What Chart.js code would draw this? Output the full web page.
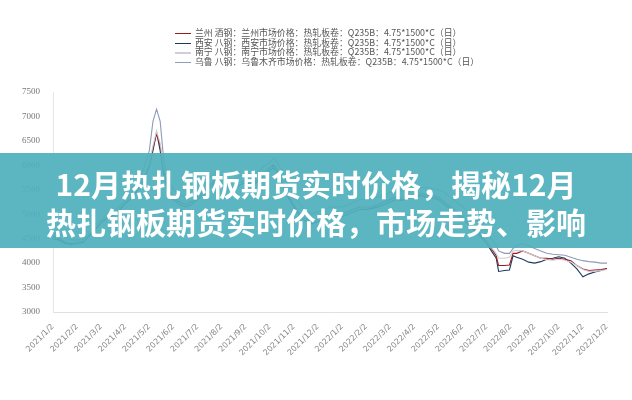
<!DOCTYPE html>
<html>
<head>
<meta charset="utf-8">
<script src="https://cdn.jsdelivr.net/npm/chart.js@4"></script>
<style>
    body { margin: 0; background: #fff; }
    #wrap { position: relative; width: 632px; height: 400px; overflow: hidden; }
    #legend { position: absolute; left: 175px; top: 28px; font: 8.9px "Noto Sans CJK SC", sans-serif; color: #555; }
    #legend div { height: 9.7px; line-height: 9.7px; white-space: nowrap; }
    #legend span { display: inline-block; width: 16px; height: 1.5px; vertical-align: middle; margin-right: 4px; }
    #banner { position: absolute; left: 0; top: 153px; width: 632px; height: 95px; background: rgba(80, 176, 188, 0.93);
        color: #fff; font: bold 30px "Noto Sans CJK SC", sans-serif; text-align: center; line-height: 38px; padding-top: 11px; box-sizing: border-box; }
</style>
</head>
<body>
<div id="wrap">
    <canvas id="chart" width="632" height="400"></canvas>
    <div id="legend"></div>
    <div id="banner">12月热扎钢板期货实时价格，揭秘12月<br>热扎钢板期货实时价格，市场走势、影响</div>
</div>
<script>
// x 轴刻度
const monthLabels = ['2021/1/2', '2021/2/2', '2021/3/2', '2021/4/2', '2021/5/2', '2021/6/2', '2021/7/2', '2021/8/2',
    '2021/9/2', '2021/10/2', '2021/11/2', '2021/12/2', '2022/1/2', '2022/2/2', '2022/3/2', '2022/4/2',
    '2022/5/2', '2022/6/2', '2022/7/2', '2022/8/2', '2022/9/2', '2022/10/2', '2022/11/2', '2022/12/2'];

// 月份位置 (0 = 2021/1/2)
const months = [0, 0.25, 0.5, 0.75, 1, 1.25, 1.5, 1.75, 2, 2.25,
    2.5, 2.75, 3, 3.25, 3.5, 3.75, 4, 4.15, 4.3, 4.45,
    4.6, 4.8, 5, 5.25, 5.5, 5.75, 6, 6.25, 6.5, 6.75,
    7, 7.25, 7.5, 7.75, 8, 8.25, 8.5, 8.75, 9, 9.15,
    9.3, 9.5, 9.75, 10, 10.25, 10.5, 10.75, 11, 11.25, 11.5,
    11.75, 12, 12.25, 12.5, 12.75, 13, 13.25, 13.5, 13.75, 14,
    14.25, 14.5, 14.75, 15, 15.25, 15.5, 15.75, 16, 16.25, 16.5,
    16.75, 17, 17.25, 17.5, 17.75, 18, 18.2, 18.4, 18.5, 18.75,
    18.95, 19.1, 19.25, 19.5, 19.75, 20, 20.25, 20.5, 20.75, 21,
    21.25, 21.5, 21.75, 22, 22.25, 22.5, 22.75, 23];

const lanzhou = [4550, 4500, 4420, 4400, 4420, 4430, 4580, 4700, 4850, 4950,
    5000, 5100, 5250, 5350, 5500, 5700, 6000, 6350, 6650, 6400,
    5900, 5500, 5350, 5250, 5200, 5250, 5350, 5450, 5600, 5700,
    5650, 5550, 5550, 5650, 5700, 5650, 5700, 5850, 5950, 6000,
    5920, 5700, 5400, 5200, 5000, 4900, 4850, 4900, 4950, 5000,
    4980, 5000, 5050, 5100, 5150, 5150, 5150, 5200, 5250, 5300,
    5350, 5300, 5350, 5400, 5420, 5400, 5380, 5350, 5250, 5150,
    5050, 4950, 4850, 4700, 4600, 4450, 4300, 4150, 3950, 3950,
    3960, 4200, 4200, 4250, 4200, 4150, 4100, 4100, 4080, 4100,
    4080, 4050, 3950, 3880, 3850, 3860, 3870, 3890];

const xian = [4500, 4470, 4400, 4380, 4400, 4420, 4560, 4680, 4830, 4920,
    4980, 5080, 5220, 5320, 5480, 5680, 5980, 6300, 6680, 6300,
    5800, 5450, 5300, 5200, 5150, 5200, 5300, 5400, 5550, 5650,
    5600, 5500, 5500, 5600, 5650, 5600, 5660, 5800, 5900, 5950,
    5870, 5650, 5350, 5150, 4950, 4850, 4800, 4850, 4900, 4950,
    4930, 4950, 5000, 5050, 5100, 5100, 5120, 5150, 5200, 5250,
    5300, 5280, 5320, 5350, 5380, 5350, 5330, 5300, 5200, 5100,
    5000, 4900, 4800, 4650, 4550, 4400, 4250, 4100, 3830, 3850,
    3860, 4150, 4120, 4080, 4020, 4000, 4030, 4080, 4100, 4130,
    4100, 4000, 3880, 3720, 3780, 3820, 3850, 3890];

const nanning = [4580, 4540, 4450, 4420, 4430, 4450, 4600, 4720, 4860, 4960,
    5020, 5120, 5260, 5360, 5520, 5720, 6050, 6400, 6700, 6450,
    5950, 5550, 5380, 5300, 5250, 5280, 5380, 5480, 5620, 5720,
    5680, 5580, 5570, 5660, 5720, 5680, 5720, 5870, 5970, 6030,
    5950, 5720, 5420, 5220, 5020, 4920, 4870, 4920, 4970, 5020,
    5000, 5020, 5070, 5120, 5170, 5160, 5170, 5220, 5270, 5320,
    5370, 5330, 5370, 5420, 5440, 5420, 5400, 5370, 5270, 5170,
    5070, 4970, 4870, 4720, 4620, 4470, 4320, 4200, 4100, 4100,
    4120, 4250, 4260, 4250, 4200, 4150, 4100, 4070, 4060, 4080,
    4060, 4020, 3950, 3870, 3830, 3830, 3850, 3870];

const urumqi = [4620, 4600, 4520, 4480, 4470, 4480, 4600, 4720, 4900, 5000,
    5050, 5150, 5300, 5450, 5650, 5900, 6300, 6900, 7150, 6900,
    6100, 5700, 5500, 5400, 5350, 5400, 5500, 5600, 5750, 5850,
    5800, 5700, 5700, 5780, 5850, 5800, 5850, 5980, 6050, 6150,
    6080, 5880, 5600, 5400, 5200, 5050, 5000, 5050, 5100, 5150,
    5150, 5150, 5200, 5250, 5300, 5300, 5300, 5350, 5400, 5450,
    5500, 5480, 5500, 5550, 5550, 5550, 5520, 5500, 5450, 5350,
    5250, 5150, 5050, 4900, 4800, 4650, 4500, 4350, 4250, 4200,
    4200, 4300, 4350, 4400, 4350, 4300, 4250, 4200, 4180, 4170,
    4160, 4120, 4080, 4050, 4030, 4020, 4000, 4000];

const seriesNames = [
    '兰州 酒钢：兰州市场价格：热轧板卷：Q235B：4.75*1500*C（日）',
    '西安 八钢：西安市场价格：热轧板卷：Q235B：4.75*1500*C（日）',
    '南宁 八钢：南宁市场价格：热轧板卷：Q235B：4.75*1500*C（日）',
    '乌鲁 八钢：乌鲁木齐市场价格：热轧板卷：Q235B：4.75*1500*C（日）'
];
const seriesColors = ['#9b1c1f', '#1d3a5e', '#cfcfd4', '#8e9cb4'];
const seriesValues = [lanzhou, xian, nanning, urumqi];

// 图例 (HTML)
const legend = document.getElementById('legend');
seriesNames.forEach((name, i) => {
    const row = document.createElement('div');
    row.innerHTML = `<span style="background:${seriesColors[i]}"></span>${name}`;
    legend.appendChild(row);
});

// 浅色线先画
const drawOrder = [2, 3, 0, 1];
const datasets = drawOrder.map(i => ({
    label: seriesNames[i],
    data: months.map((m, k) => ({ x: m, y: seriesValues[i][k] })),
    borderColor: seriesColors[i],
    borderWidth: 1.1,
    pointRadius: 0,
    tension: 0
}));

new Chart(document.getElementById('chart').getContext('2d'), {
    type: 'line',
    data: { datasets: datasets },
    options: {
        responsive: false,
        animation: false,
        layout: { padding: { top: 92, right: 25, left: 0, bottom: 0 } },
        plugins: { legend: { display: false }, tooltip: { enabled: false } },
        scales: {
            x: {
                type: 'linear',
                min: 0,
                max: 23,
                grid: { display: false },
                border: { color: '#e0e0e0' },
                ticks: {
                    stepSize: 1,
                    autoSkip: false,
                    maxRotation: 45,
                    minRotation: 45,
                    padding: 2,
                    color: '#888',
                    font: { size: 8, family: 'DejaVu Sans' },
                    callback: function(value) { return monthLabels[value]; }
                },
                afterFit: function(scale) {
                    scale.height = 88;
                    scale.paddingLeft = 0;
                    scale.paddingRight = 0;
                }
            },
            y: {
                min: 3000,
                max: 7500,
                grid: { display: false },
                border: { color: '#e6e6e6' },
                ticks: {
                    stepSize: 500,
                    padding: 5,
                    color: '#777',
                    font: { size: 9, family: 'Liberation Serif' },
                    callback: function(value) { return String(value); }
                },
                afterFit: function(scale) { scale.width = 53; }
            }
        }
    }
});
</script>
</body>
</html>
